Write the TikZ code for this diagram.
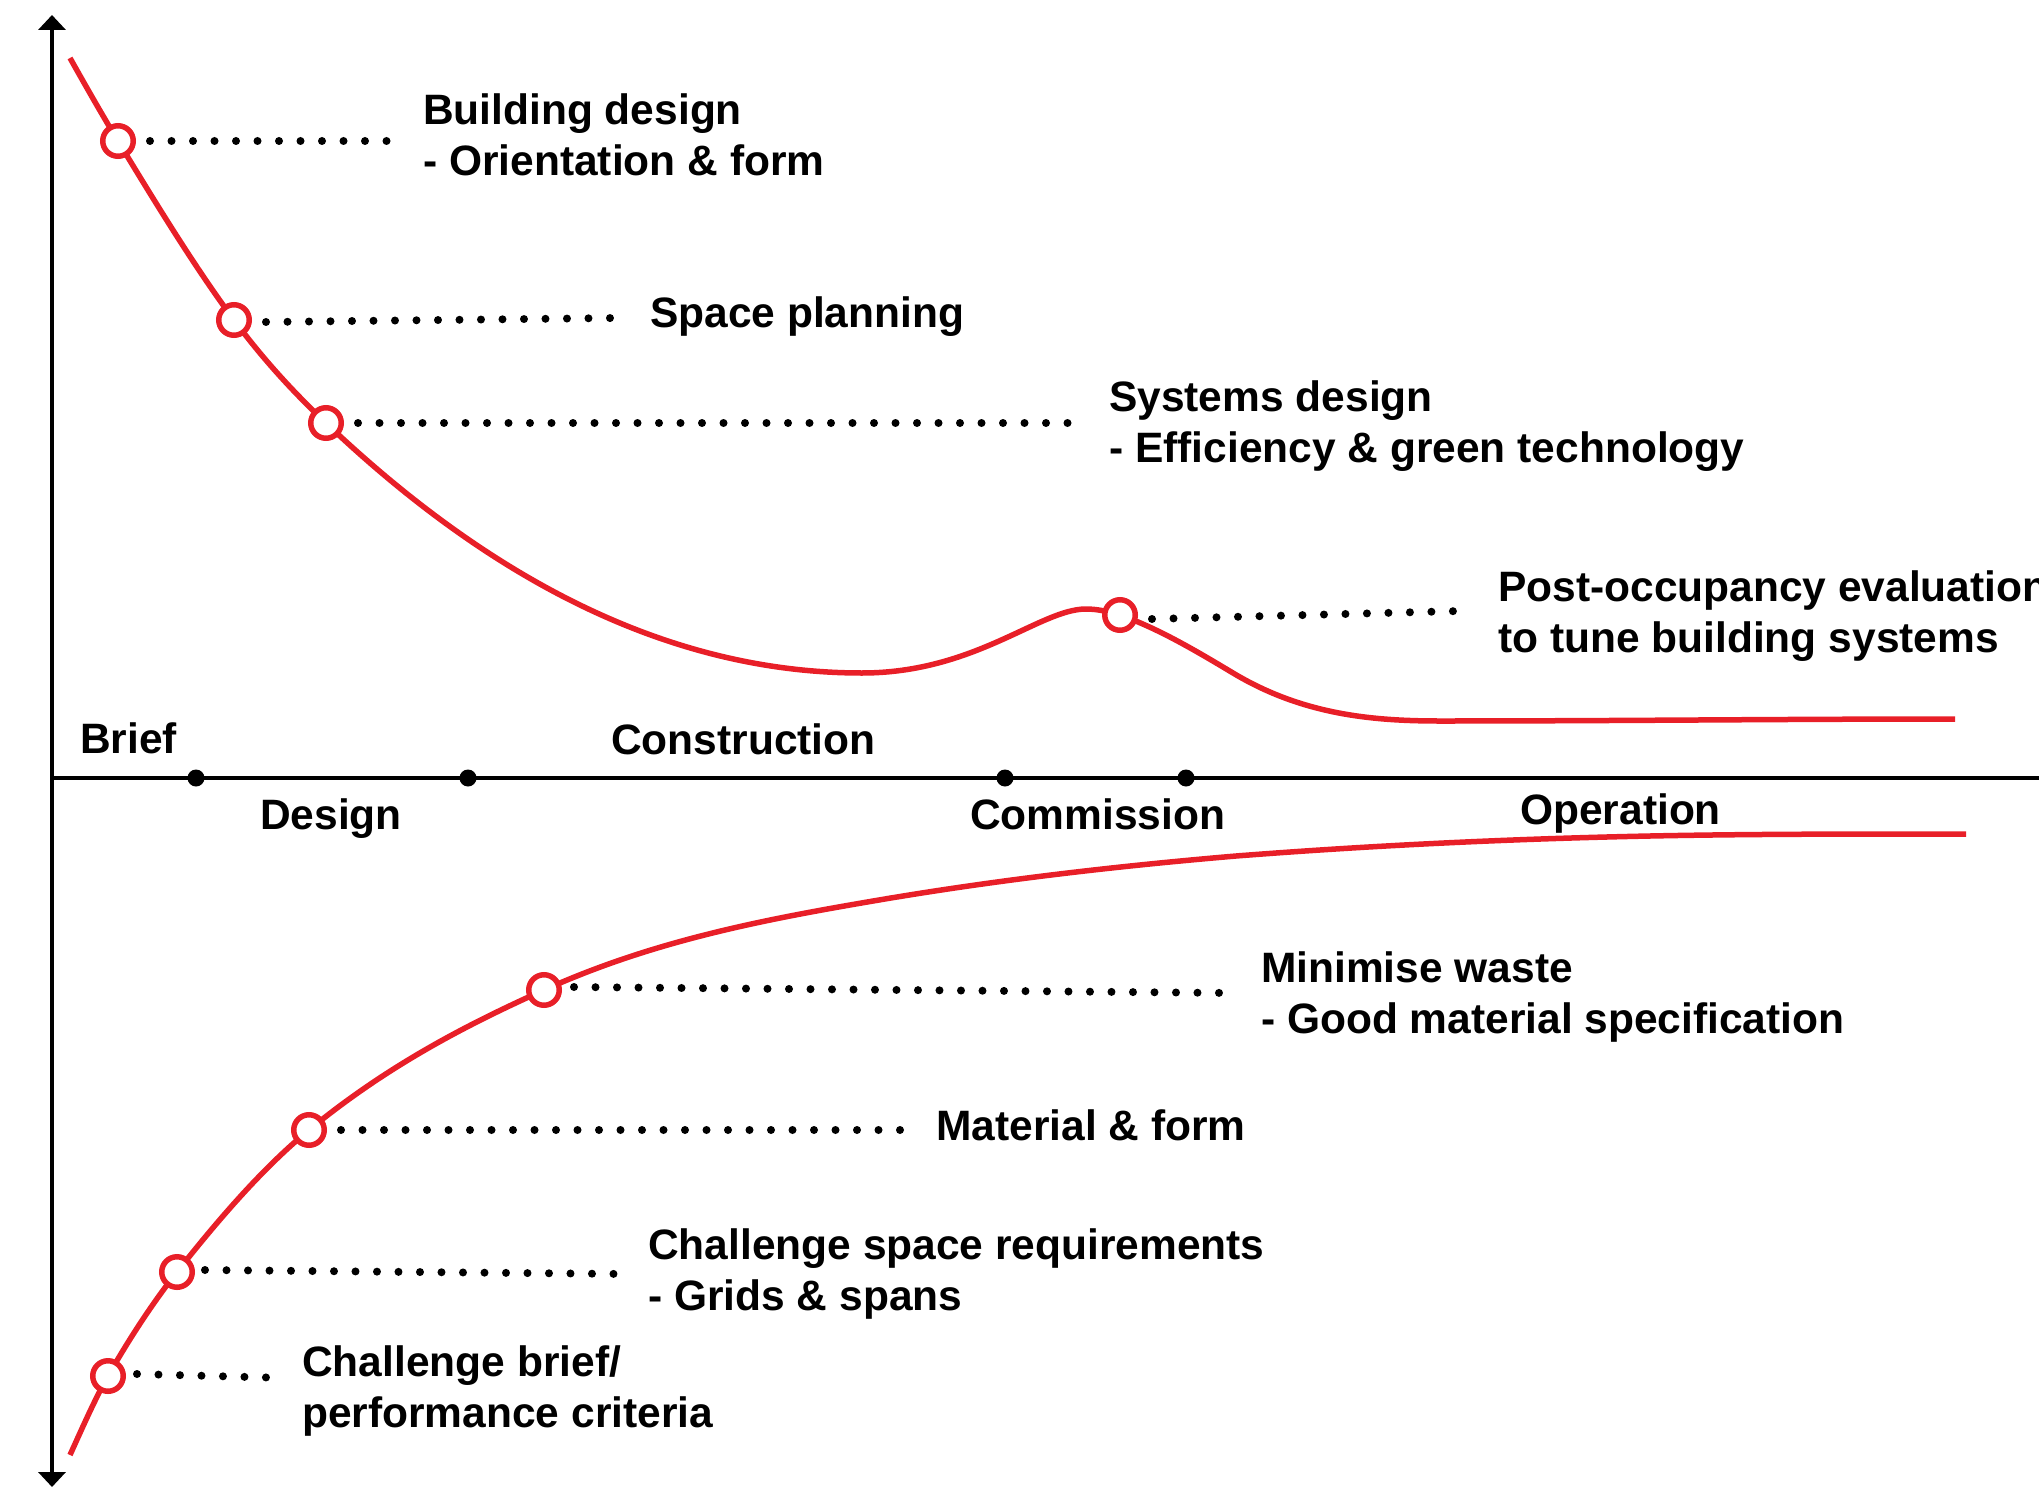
\documentclass[tikz,border=0pt]{standalone}
\usepackage{fontspec}
\setmainfont{Liberation Sans}
\usetikzlibrary{arrows.meta}
\definecolor{curvered}{RGB}{232,31,40}
\begin{document}
\begin{tikzpicture}[x=1pt,y=-1pt,
  curve/.style={draw=curvered,line width=5.5pt},
  marker/.style={circle,draw=curvered,line width=5.5pt,fill=white,minimum size=30.5pt,inner sep=0pt},
  dotline/.style={line width=8pt,line cap=round,dash pattern=on 0pt off 21.5pt},
  lbl/.style={anchor=base west,inner sep=0pt,align=left,font=\fontsize{42.5}{51}\selectfont\bfseries},
  phase/.style={circle,fill=black,minimum size=17pt,inner sep=0pt},
  axis/.style={line width=4.5pt}]
\useasboundingbox (0,0) rectangle (2039,1487);
% axes
\coordinate (ybot) at (52,1487);
\coordinate (ytop) at (52,15);
\coordinate (xl) at (52,778);
\coordinate (xr) at (2045,778);
\draw[axis,{Triangle[width=27pt,length=15pt]}-{Triangle[width=27pt,length=15pt]}] (ybot) -- (ytop);
\draw[axis] (xl) -- (xr);
\node[phase] (p1) at (196,778) {};
\node[phase] (p2) at (468,778) {};
\node[phase] (p3) at (1005,778) {};
\node[phase] (p4) at (1186,778) {};
% phase labels
\node[lbl] (brief) at (80,753) {Brief};
\node[lbl] (design) at (260,829) {Design};
\node[lbl] (constr) at (611,754) {Construction};
\node[lbl] (commis) at (970,829) {Commission};
\node[lbl] (operat) at (1520,824) {Operation};
% upper curve
\draw[curve] (70,58)
  .. controls (86,86.5) and (102,114.6) .. (118,141)
  .. controls (156.7,204.8) and (195.3,267.8) .. (234,320)
  .. controls (264.7,361.4) and (295.3,393.9) .. (326,423)
  .. controls (504.7,592.7) and (683.3,673) .. (862,673)
  .. controls (975,673) and (1040,609) .. (1086,609)
  .. controls (1097.3,609) and (1108.7,611.6) .. (1120,615)
  .. controls (1157.7,628.2) and (1195.3,650.4) .. (1233,673)
  .. controls (1302,714.4) and (1371,721) .. (1440,721)
  .. controls (1612,721) and (1783,719) .. (1955,719);
% lower curve
\draw[curve] (70,1455)
  .. controls (82.67,1427.1) and (95.33,1398.2) .. (108,1376)
  .. controls (131,1335.75) and (154,1301.2) .. (177,1272)
  .. controls (221,1216.1) and (265,1166.1) .. (309,1130)
  .. controls (387.3,1065.8) and (465.7,1025.2) .. (544,990)
  .. controls (655.7,939.7) and (767.3,919) .. (879,900)
  .. controls (998,879.8) and (1117,866.1) .. (1236,856)
  .. controls (1374,845.3) and (1512,838.8) .. (1650,836)
  .. controls (1755.3,833.9) and (1860.7,834) .. (1966,834);
% markers
\node[marker] (m1) at (118,141) {};
\node[marker] (m2) at (234,320) {};
\node[marker] (m3) at (326,423) {};
\node[marker] (m4) at (1120,615) {};
\node[marker] (m5) at (544,990) {};
\node[marker] (m6) at (309,1130) {};
\node[marker] (m7) at (177,1272) {};
\node[marker] (m8) at (108,1376) {};
% dotted leaders
\coordinate (e1) at (390,141);
\coordinate (e2) at (616,318);
\coordinate (e3) at (1084,423);
\coordinate (e4) at (1460,611);
\coordinate (e5) at (1232,993);
\coordinate (e6) at (905,1130);
\coordinate (e7) at (625,1274);
\coordinate (e8) at (287,1378);
\draw[dotline] ([xshift=14pt]m1.east) -- (e1);
\draw[dotline] ([xshift=14pt,yshift=-2pt]m2.east) -- (e2);
\draw[dotline] ([xshift=14pt]m3.east) -- (e3);
\draw[dotline] ([xshift=14pt,yshift=-4pt]m4.east) -- (e4);
\draw[dotline] ([xshift=12pt,yshift=3pt]m5.east) -- (e5);
\draw[dotline] ([xshift=14pt]m6.east) -- (e6);
\draw[dotline] ([xshift=10pt,yshift=2pt]m7.east) -- (e7);
\draw[dotline] ([xshift=11pt,yshift=2pt]m8.east) -- (e8);
% labels
\node[lbl] (t1) at (423,176) {Building design\\- Orientation \& form};
\node[lbl] (t2) at (650,327) {Space planning};
\node[lbl] (t3) at (1109,462) {Systems design\\- Efficiency \& green technology};
\node[lbl] (t4) at (1498,652) {Post-occupancy evaluation\\to tune building systems};
\node[lbl] (t5) at (1261,1033) {Minimise waste\\- Good material specification};
\node[lbl] (t6) at (936,1140) {Material \& form};
\node[lbl] (t7) at (648,1310) {Challenge space requirements\\- Grids \& spans};
\node[lbl] (t8) at (302,1427) {Challenge brief/\\performance criteria};
\end{tikzpicture}
\end{document}
